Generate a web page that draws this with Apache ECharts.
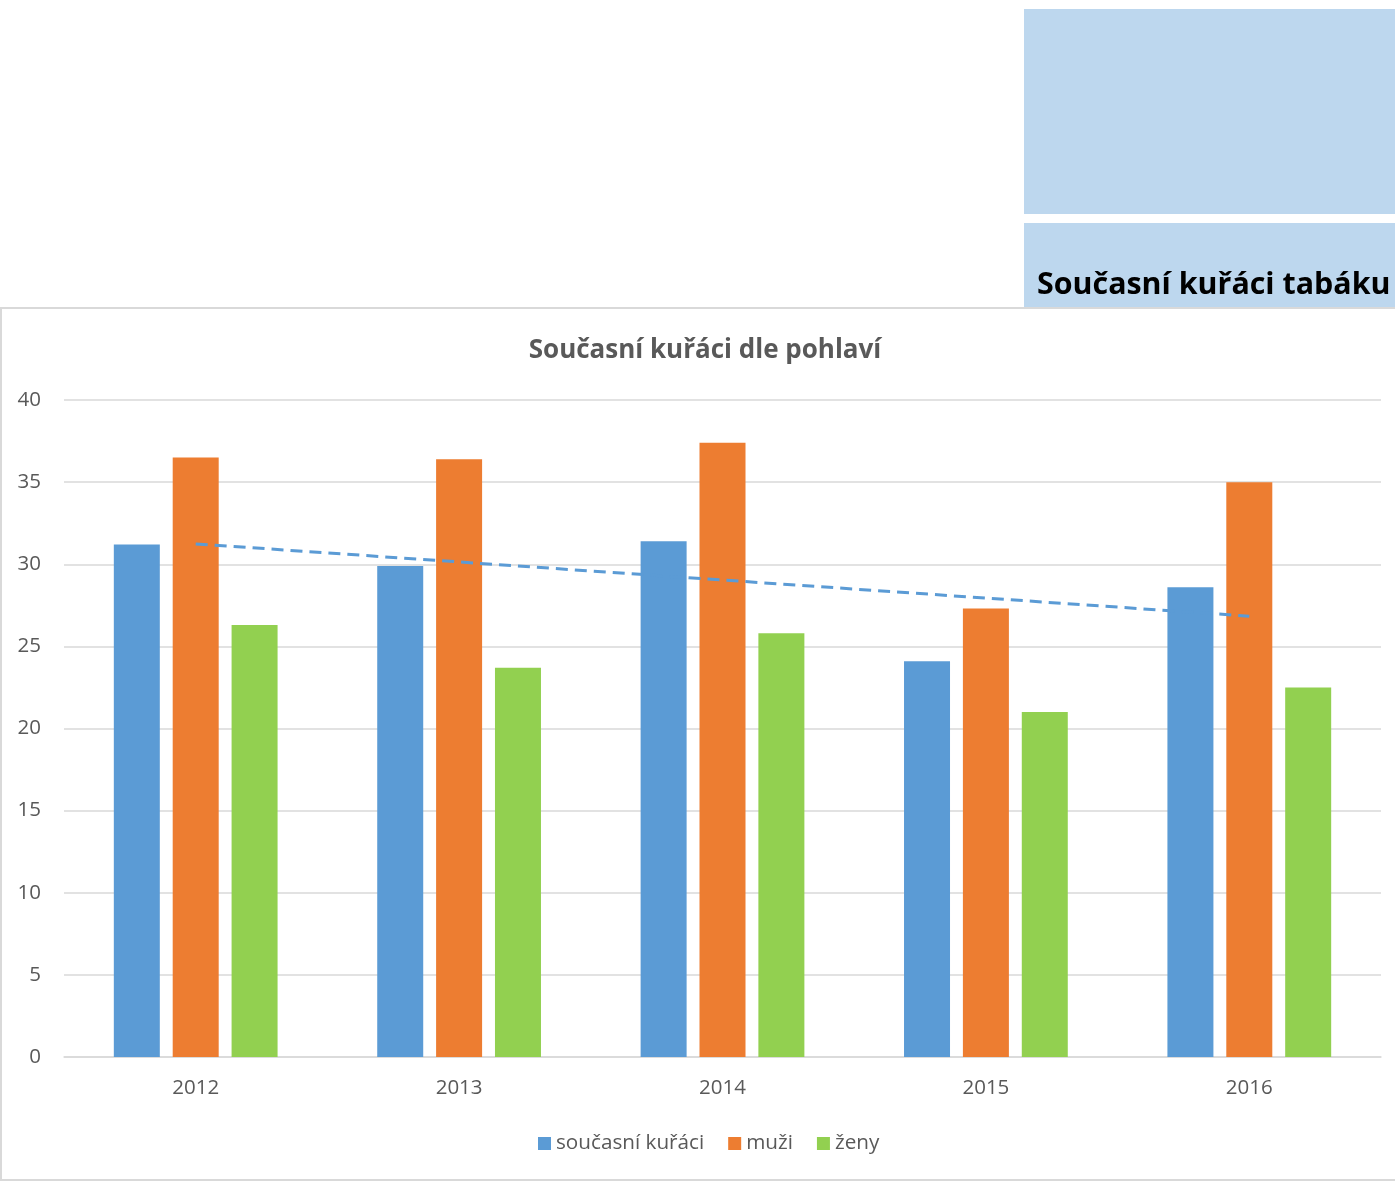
<!DOCTYPE html>
<html>
<head>
<meta charset="utf-8">
<script src="https://cdn.jsdelivr.net/npm/echarts@6/dist/echarts.min.js"></script>
<style>
html,body{margin:0;padding:0;background:#fff;}
#c{width:1395px;height:1181px;}
</style>
</head>
<body>
<div id="c"></div>
<script>
const years = ['2012', '2013', '2014', '2015', '2016'];
const soucasniKuraci = [31.2, 29.9, 31.4, 24.1, 28.6];
const muzi = [36.5, 36.4, 37.4, 27.3, 35.0];
const zeny = [26.3, 23.7, 25.8, 21.0, 22.5];
const trend = [31.24, null, null, null, 26.84];
const seriesNames = ['současní kuřáci', 'muži', 'ženy'];
const yTicks = [0, 5, 10, 15, 20, 25, 30, 35, 40];

const FONT = '"Open Sans", "Noto Sans", sans-serif';
const chart = echarts.init(document.getElementById('c'), null, {renderer: 'canvas'});
chart.setOption({
  animation: false,
  backgroundColor: '#fff',
  graphic: [
    {type: 'rect', shape: {x: 1, y: 308, width: 1420, height: 872}, style: {fill: '#fff', stroke: '#D9D9D9', lineWidth: 2}, z: -1},
    {type: 'rect', shape: {x: 1024, y: 9, width: 372, height: 205}, style: {fill: '#BDD7EE'}, z: 0},
    {type: 'rect', shape: {x: 1024, y: 223, width: 372, height: 84}, style: {fill: '#BDD7EE'}, z: 0},
    {type: 'text', x: 1037, y: 285, style: {text: 'Současní kuřáci tabáku', fill: '#000', font: 'bold 30.4px ' + FONT, textVerticalAlign: 'middle'}, z: 1}
  ],
  title: {
    text: 'Současní kuřáci dle pohlaví',
    left: 700, top: 333, textAlign: 'center',
    textStyle: {color: '#595959', fontFamily: FONT, fontWeight: 'bold', fontSize: 26}
  },
  legend: {
    data: seriesNames,
    bottom: 22, left: 533,
    icon: 'rect', itemWidth: 13, itemHeight: 13, itemGap: 24,
    textStyle: {color: '#595959', fontFamily: FONT, fontSize: 20.7}
  },
  grid: {left: 64, right: 14, top: 400, bottom: 124, containLabel: false},
  xAxis: {
    type: 'category', data: years,
    axisLine: {lineStyle: {color: '#D9D9D9', width: 1.5}},
    axisTick: {show: false},
    axisLabel: {color: '#595959', fontFamily: FONT, fontSize: 20.5, margin: 21}
  },
  yAxis: {
    type: 'value', min: 0, max: 40, interval: 5,
    axisLine: {show: false}, axisTick: {show: false},
    axisLabel: {color: '#595959', fontFamily: FONT, fontSize: 20.5, margin: 23,
      formatter: v => yTicks.includes(v) ? String(v) : ''},
    splitLine: {lineStyle: {color: '#D9D9D9', width: 1.5}}
  },
  series: [
    {name: seriesNames[0], type: 'bar', data: soucasniKuraci, barWidth: 46, barGap: '28%', itemStyle: {color: '#5B9BD5'}},
    {name: seriesNames[1], type: 'bar', data: muzi, barWidth: 46, barGap: '28%', itemStyle: {color: '#ED7D31'}},
    {name: seriesNames[2], type: 'bar', data: zeny, barWidth: 46, barGap: '28%', itemStyle: {color: '#92D050'}},
    {name: 'trend', type: 'line', data: trend, connectNulls: true, symbol: 'none', z: 5,
      lineStyle: {color: '#5B9BD5', width: 3, type: [12, 7]}}
  ]
});
</script>
</body>
</html>
